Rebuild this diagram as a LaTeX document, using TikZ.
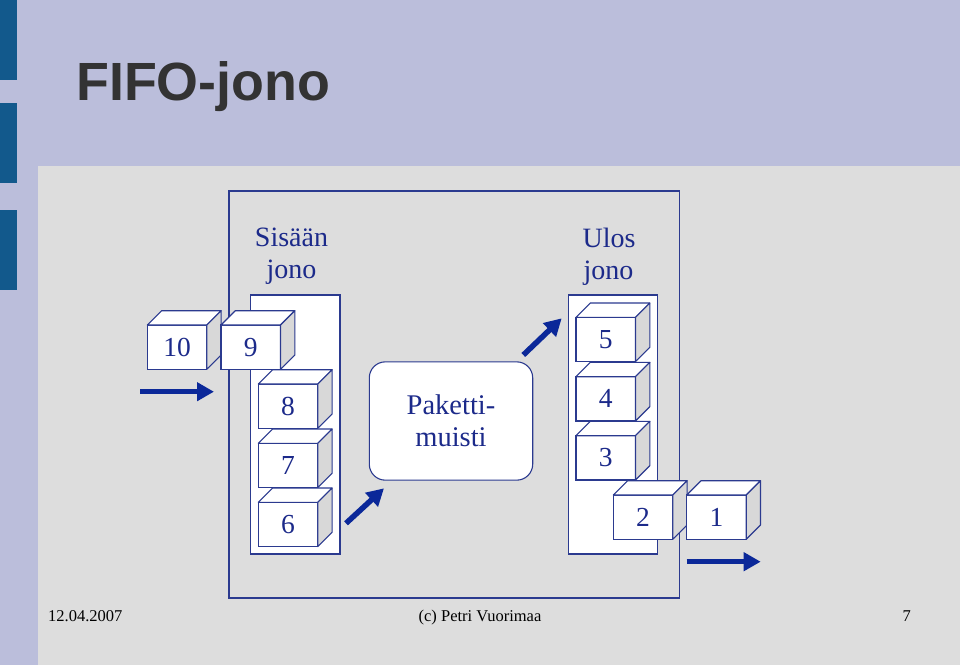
\documentclass[tikz,border=0pt]{standalone}
\usepackage{fontspec}
\setmainfont{Liberation Serif}
\newfontfamily\titlefont{Liberation Sans}
\usetikzlibrary{arrows.meta}
\definecolor{bgpurple}{HTML}{BBBEDB}
\definecolor{bggray}{HTML}{DDDDDD}
\definecolor{sidegray}{HTML}{D8D8D8}
\definecolor{barblue}{HTML}{12598C}
\definecolor{lineblue}{HTML}{2B3A8F}
\definecolor{txtblue}{HTML}{1C2A8A}
\definecolor{arrblue}{HTML}{0B2899}
\definecolor{titlegray}{HTML}{333333}
\tikzset{
  frame/.style={draw=lineblue, line width=1.2pt},
  holder/.style={draw=lineblue, line width=1.1pt, fill=white},
  cubefront/.style={draw=lineblue, line width=1.1pt, fill=white, rectangle,
    minimum width=59.5pt, minimum height=44.3pt, inner sep=0pt, outer sep=0pt,
    anchor=north west, text=txtblue, font=\fontsize{27.5}{30}\selectfont},
  cubeface/.style={draw=lineblue, line width=1.1pt, line join=round},
  bigarrow/.style={draw=arrblue, line width=5.5pt, -{Triangle[length=17pt,width=18pt]}},
  lbl/.style={text=txtblue, font=\fontsize{28}{32}\selectfont, anchor=base, inner sep=0pt},
  foot/.style={text=black, font=\fontsize{16.5}{18}\selectfont, inner sep=0pt},
}
\newcommand\cubeat[4]{%
  \node[cubefront] (#1) at (#2,#3) {#4};
  \draw[cubeface, fill=white] (#1.north west) -- ++(14.3pt,14.3pt) -- ++(59.5pt,0pt) -- (#1.north east) -- cycle;
  \draw[cubeface, fill=sidegray] (#1.north east) -- ++(14.3pt,14.3pt) -- ++(0pt,-44.3pt) -- (#1.south east) -- cycle;
}
\begin{document}
\begin{tikzpicture}[x=1pt,y=-1pt]
  % background
  \fill[bgpurple] (0,0) rectangle (960,665);
  \useasboundingbox (0,0) rectangle (960,665);
  \fill[bggray] (38,166) rectangle (960,665);
  \fill[barblue] (0,0) rectangle (17,80);
  \fill[barblue] (0,103) rectangle (17,183);
  \fill[barblue] (0,210) rectangle (17,290);
  % title
  \node[anchor=base west, inner sep=0pt, text=titlegray, font=\titlefont\bfseries\fontsize{53.8}{60}\selectfont] (title) at (76,100.5) {FIFO-jono};
  % outer frame
  \draw[frame] (229,191) rectangle (679.3,598);
  % holders
  \draw[holder] (250.7,295) rectangle (340,554);
  \draw[holder] (568.3,295) rectangle (657.3,554);
  % labels
  \node[lbl] (sis1) at (291.5,246) {Sisään};
  \node[lbl] (sis2) at (291.5,278) {jono};
  \node[lbl] (ulos1) at (609,247) {Ulos};
  \node[lbl] (ulos2) at (608.5,279) {jono};
  % packet memory
  \node[draw=lineblue, line width=1.1pt, fill=white, rounded corners=16pt,
        minimum width=163.4pt, minimum height=118.3pt, inner sep=0pt,
        align=center, text=txtblue, font=\fontsize{28.5}{32}\selectfont] (mem) at (451,421) {Paketti-\\muisti};
  % cubes
  \cubeat{c10}{147.3}{325}{10}
  \cubeat{c9}{221}{325}{9}
  \cubeat{c8}{258.3}{384}{8}
  \cubeat{c7}{258.3}{443.3}{7}
  \cubeat{c6}{258.3}{502.3}{6}
  \cubeat{c5}{576}{317.3}{5}
  \cubeat{c4}{576}{376.7}{4}
  \cubeat{c3}{576}{435.7}{3}
  \cubeat{c2}{613.3}{495}{2}
  \cubeat{c1}{686.7}{495}{1}
  % arrows
  \coordinate (a1s) at (140,391.7);  \coordinate (a1e) at (214,391.7);
  \coordinate (a2s) at (346,523.3);  \coordinate (a2e) at (384,488.3);
  \coordinate (a3s) at (523.3,355);  \coordinate (a3e) at (561.7,318.3);
  \coordinate (a4s) at (686.7,561.7); \coordinate (a4e) at (760.7,561.7);
  \draw[bigarrow] (a1s) -- (a1e);
  \draw[bigarrow] (a2s) -- (a2e);
  \draw[bigarrow] (a3s) -- (a3e);
  \draw[bigarrow] (a4s) -- (a4e);
  % footer
  \node[foot, anchor=base west] (date) at (48,621) {12.04.2007};
  \node[foot, anchor=base] (author) at (480,621) {(c) Petri Vuorimaa};
  \node[foot, anchor=base east] (page) at (911,621) {7};
\end{tikzpicture}
\end{document}
